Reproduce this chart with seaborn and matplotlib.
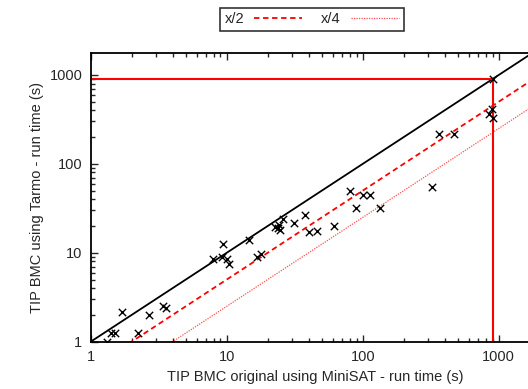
#Importing required libraries
import numpy as np
import pandas as pd
import matplotlib
matplotlib.use("Agg")
import matplotlib.pyplot as plt
import seaborn as sns

#Run times (seconds)
minisat_time = [1.32, 1.40, 1.52, 1.71, 2.24, 2.68, 3.38, 3.55,
                7.97, 9.2, 9.46, 9.98, 10.4, 14.6, 16.6, 17.9,
                22.6, 23.9, 24.3, 24.6, 25.8, 31.3, 37.6, 40.5, 46.3,
                61.4, 80.8, 89.3, 101, 112.6, 133, 324, 364, 471,
                850, 886, 900, 900]
tarmo_time = [1.0, 1.26, 1.26, 2.17, 1.24, 1.99, 2.55, 2.40,
              8.6, 9.0, 12.4, 8.5, 7.46, 13.8, 9.0, 9.8,
              19.6, 18.8, 20.4, 18.0, 23.7, 21.4, 26.5, 17.0, 17.6,
              19.9, 49.3, 31.5, 45.2, 45.2, 31.5, 55, 215, 215,
              366, 418, 331, 900]

timeout = 900
x_min, x_max = 1, 2000
y_min, y_max = 1, 1780

df = pd.DataFrame({"minisat": minisat_time, "tarmo": tarmo_time})
ref = pd.DataFrame({"x": [x_min, x_max]})
ref["y"] = ref["x"]
ref["half"] = ref["x"] / 2
ref["quarter"] = ref["x"] / 4

sns.set_style("ticks")
plt.rcParams["font.family"] = ["Liberation Sans", "DejaVu Sans"]
plt.rcParams["font.size"] = 10.5

fig = plt.figure(figsize=(5.28, 3.89), dpi=100)
#plot frame runs past the right edge of the picture, like the reference
ax = fig.add_axes([90.7/528, 1-341.7/389, (539.7-90.7)/528, (341.7-52.7)/389])

#Reference lines y=x, x/2, x/4
sns.lineplot(data=ref, x="x", y="y", ax=ax, color="black", lw=1.3, legend=False)
ax.plot(ref["x"], ref["half"], color="red", lw=1.3, ls=(0, (3, 2)), label="x/2")
ax.plot(ref["x"], ref["quarter"], color="#ff5050", lw=0.9, ls=(0, (1, 1)), label="x/4")

#Timeout box
ax.plot([x_min, timeout], [timeout, timeout], color="red", lw=1.5)
ax.plot([timeout, timeout], [y_min, timeout], color="red", lw=1.5)

#Scatter of run times
sns.scatterplot(data=df, x="minisat", y="tarmo", ax=ax, marker="x", color="black",
                s=28, linewidth=1.0, legend=False, zorder=5)

ax.set_xscale("log")
ax.set_yscale("log")
ax.set_xlim(x_min, x_max)
ax.set_ylim(y_min, y_max)
ax.set_xticks([1, 10, 100, 1000])
ax.set_xticklabels(["1", "10", "100", "1000"])
ax.set_yticks([1, 10, 100, 1000])
ax.set_yticklabels(["1", "10", "100", "1000"])
ax.tick_params(which="both", direction="in", top=True, right=True, width=1, pad=6)
ax.tick_params(which="major", length=5)
ax.tick_params(which="minor", length=3)
for sp in ax.spines.values():
    sp.set_linewidth(1.3)
    sp.set_color("black")

ax.set_xlabel("TIP BMC original using MiniSAT - run time (s)")
ax.set_ylabel("TIP BMC using Tarmo - run time (s)")

leg = fig.legend(handles=ax.get_lines()[1:3], labels=["x/2", "x/4"], loc="upper left",
                 bbox_to_anchor=(220/528, 1-8/389), ncol=2, markerfirst=False,
                 frameon=True, fancybox=False, edgecolor="black", borderpad=0.3,
                 handlelength=3.3, columnspacing=1.3, handletextpad=0.7,
                 borderaxespad=0, fontsize=10.5)
leg.get_frame().set_linewidth(1.2)

plt.savefig("out.png", dpi=100)
